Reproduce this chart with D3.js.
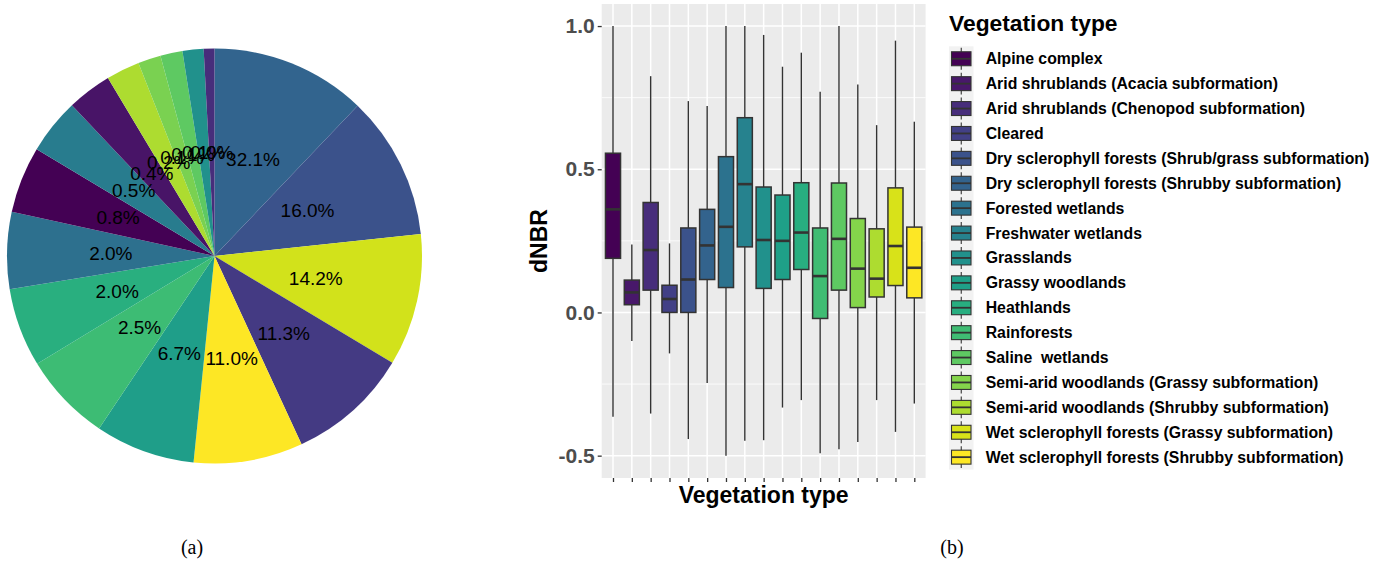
<!DOCTYPE html>
<html><head><meta charset="utf-8">
<script src="https://cdn.jsdelivr.net/npm/d3@7"></script>
<style>body{margin:0;background:#fff;} svg{display:block;}</style>
</head><body>
<svg id="chart" width="1384" height="565"></svg>
<script>
// ---------- Data ----------
const categories = [
  "Alpine complex",
  "Arid shrublands (Acacia subformation)",
  "Arid shrublands (Chenopod subformation)",
  "Cleared",
  "Dry sclerophyll forests (Shrub/grass subformation)",
  "Dry sclerophyll forests (Shrubby subformation)",
  "Forested wetlands",
  "Freshwater wetlands",
  "Grasslands",
  "Grassy woodlands",
  "Heathlands",
  "Rainforests",
  "Saline  wetlands",
  "Semi-arid woodlands (Grassy subformation)",
  "Semi-arid woodlands (Shrubby subformation)",
  "Wet sclerophyll forests (Grassy subformation)",
  "Wet sclerophyll forests (Shrubby subformation)"
];
// boxplot statistics (dNBR)
const whiskerLow  = [-0.364,-0.100,-0.353,-0.143,-0.442,-0.246,-0.500,-0.448,-0.446,-0.332,-0.306,-0.492,-0.478,-0.452,-0.306,-0.417,-0.318];
const q1          = [ 0.189, 0.027, 0.078, 0.000, 0.000, 0.115, 0.087, 0.229, 0.084, 0.115, 0.150,-0.021, 0.078, 0.017, 0.054, 0.094, 0.051];
const medians     = [ 0.360, 0.070, 0.218, 0.047, 0.115, 0.234, 0.299, 0.448, 0.253, 0.250, 0.279, 0.127, 0.257, 0.153, 0.118, 0.232, 0.156];
const q3          = [ 0.556, 0.113, 0.384, 0.095, 0.295, 0.360, 0.544, 0.680, 0.438, 0.410, 0.453, 0.295, 0.452, 0.328, 0.292, 0.435, 0.298];
const whiskerHigh = [ 1.000, 0.237, 0.825, 0.241, 0.738, 0.721, 1.000, 1.000, 0.969, 0.858, 0.907, 0.771, 1.000, 0.796, 0.654, 0.949, 0.666];
const yTicks = [-0.5, 0.0, 0.5, 1.0];
const yTickLabels = ["-0.5", "0.0", "0.5", "1.0"];
const yMinorTicks = [-0.25, 0.25, 0.75];

// pie: slice sizes as drawn (degrees of arc) and their printed labels
const pieSizes  = [43.6, 40.3, 37.1, 34.2, 30.6, 28.0, 24.9, 22.1, 21.5, 18.7, 15.6, 12.5, 9.4, 6.4, 6.2, 5.9, 3.0];
const pieLabels = ["32.1%","16.0%","14.2%","11.3%","11.0%","6.7%","2.5%","2.0%","2.0%","0.8%","0.5%","0.4%","0.2%","0.1%","0.1%","0.1%","0.0%"];
const pieColors = ["#32648e","#3b528b","#d2e21b","#443a83","#fde725","#1f9e89","#3dbc74","#29af7f","#2d708e","#440154","#287c8e","#481467","#addc30","#7ad151","#5ec962","#21918c","#472d7b"];

const svg = d3.select("#chart");
const FONT = "'Liberation Sans', Arial, sans-serif";

// ---------- Pie (a) ----------
const cx = 214.5, cy = 256, R = 207.5;
const pieG = svg.append("g").attr("transform", `translate(${cx},${cy})`);
const arcs = d3.pie().sort(null).value(d => d)(pieSizes);
const arc = d3.arc().innerRadius(0).outerRadius(R);
const labelArc = d3.arc().innerRadius(R*0.5).outerRadius(R*0.5);
pieG.selectAll("path.slice").data(arcs).join("path")
  .attr("class","slice").attr("d", arc)
  .attr("fill", (d,i) => pieColors[i]);
pieG.selectAll("text.lab").data(arcs).join("text")
  .attr("class","lab")
  .attr("transform", d => `translate(${labelArc.centroid(d)})`)
  .attr("text-anchor","middle").attr("dominant-baseline","central")
  .attr("font-family", FONT).attr("font-size", 19).attr("fill","#000")
  .text((d,i) => pieLabels[i]);

// ---------- Box plot (b) ----------
const panel = {x0: 601.7, x1: 925.6, y0: 4, y1: 478};
const x = d3.scalePoint().domain(categories).range([panel.x0, panel.x1]).padding(0.6);
const y = d3.scaleLinear().domain([-0.578, 1.077]).range([panel.y1, panel.y0]);
const color = d3.scaleOrdinal().domain(categories)
  .range(categories.map((c,i) => d3.interpolateViridis(i/(categories.length-1))));

const bp = svg.append("g");
bp.append("rect").attr("x", panel.x0).attr("y", panel.y0)
  .attr("width", panel.x1-panel.x0).attr("height", panel.y1-panel.y0).attr("fill","#ebebeb");
// minor grid
bp.selectAll("line.ymin").data(yMinorTicks).join("line")
  .attr("x1", panel.x0).attr("x2", panel.x1)
  .attr("y1", d=>y(d)).attr("y2", d=>y(d))
  .attr("stroke","#fff").attr("stroke-width",0.8);
// major grid
bp.selectAll("line.ymaj").data(yTicks).join("line")
  .attr("x1", panel.x0).attr("x2", panel.x1)
  .attr("y1", d=>y(d)).attr("y2", d=>y(d))
  .attr("stroke","#fff").attr("stroke-width",1.5);
bp.selectAll("line.xmaj").data(categories).join("line")
  .attr("x1", d=>x(d)).attr("x2", d=>x(d))
  .attr("y1", panel.y0).attr("y2", panel.y1)
  .attr("stroke","#fff").attr("stroke-width",1.5);

const bw = x.step()*0.8;
const boxes = bp.selectAll("g.box").data(categories).join("g").attr("class","box");
boxes.append("line")
  .attr("x1", d=>x(d)).attr("x2", d=>x(d))
  .attr("y1", (d,i)=>y(whiskerHigh[i])).attr("y2", (d,i)=>y(q3[i]))
  .attr("stroke","#333").attr("stroke-width",1.4);
boxes.append("line")
  .attr("x1", d=>x(d)).attr("x2", d=>x(d))
  .attr("y1", (d,i)=>y(q1[i])).attr("y2", (d,i)=>y(whiskerLow[i]))
  .attr("stroke","#333").attr("stroke-width",1.4);
boxes.append("rect")
  .attr("x", d=>x(d)-bw/2).attr("width", bw)
  .attr("y", (d,i)=>y(q3[i])).attr("height", (d,i)=>y(q1[i])-y(q3[i]))
  .attr("fill", d=>color(d)).attr("stroke","#333").attr("stroke-width",1.5);
boxes.append("line")
  .attr("x1", d=>x(d)-bw/2).attr("x2", d=>x(d)+bw/2)
  .attr("y1", (d,i)=>y(medians[i])).attr("y2", (d,i)=>y(medians[i]))
  .attr("stroke","#333").attr("stroke-width",2.6);

// axes
const yAxis = d3.axisLeft(y).tickValues(yTicks).tickFormat((d,i)=>yTickLabels[i]).tickSize(4).tickPadding(3);
const gy = bp.append("g").attr("transform", `translate(${panel.x0},0)`).call(yAxis);
gy.select(".domain").remove();
gy.selectAll(".tick line").attr("stroke","#333").attr("stroke-width",1.3);
gy.selectAll(".tick text").attr("font-family",FONT).attr("font-weight","bold")
  .attr("font-size",21).attr("fill","#4d4d4d");
const xAxis = d3.axisBottom(x).tickSize(4).tickFormat("");
const gx = bp.append("g").attr("transform", `translate(0,${panel.y1})`).call(xAxis);
gx.select(".domain").remove();
gx.selectAll(".tick line").attr("stroke","#333").attr("stroke-width",1.3);

bp.append("text").attr("transform", `translate(547,${(panel.y0+panel.y1)/2}) rotate(-90)`)
  .attr("text-anchor","middle").attr("font-family",FONT).attr("font-weight","bold")
  .attr("font-size",23).attr("fill","#000").text("dNBR");
bp.append("text").attr("x",(panel.x0+panel.x1)/2).attr("y",503)
  .attr("text-anchor","middle").attr("font-family",FONT).attr("font-weight","bold")
  .attr("font-size",23).attr("fill","#000").text("Vegetation type");

// legend
const lg = svg.append("g");
lg.append("text").attr("x",949).attr("y",31).attr("font-family",FONT).attr("font-weight","bold")
  .attr("font-size",22.8).attr("fill","#000").text("Vegetation type");
const keyX = 949, keyW = 24.5, keyTop = 46.3, keyH = 24.9;
lg.append("rect").attr("x",keyX).attr("y",keyTop).attr("width",keyW).attr("height",keyH*categories.length)
  .attr("fill","#f2f2f2");
const items = lg.selectAll("g.item").data(categories).join("g").attr("class","item")
  .attr("transform",(d,i)=>`translate(${keyX},${keyTop+i*keyH})`);
items.append("line").attr("x1",keyW/2).attr("x2",keyW/2).attr("y1",1.5).attr("y2",keyH-1.5)
  .attr("stroke","#333").attr("stroke-width",1.1);
items.append("rect").attr("x",2.5).attr("width",keyW-5).attr("y",keyH*0.22).attr("height",keyH*0.56)
  .attr("fill",d=>color(d)).attr("stroke","#333").attr("stroke-width",1.1);
items.append("line").attr("x1",2.5).attr("x2",keyW-2.5).attr("y1",keyH/2).attr("y2",keyH/2)
  .attr("stroke","#333").attr("stroke-width",1.8);
items.append("text").attr("x",36.7).attr("y",keyH/2).attr("dominant-baseline","central")
  .attr("font-family",FONT).attr("font-weight","bold").attr("font-size",15.8).attr("fill","#000")
  .style("white-space","pre")
  .text(d=>d);

// captions
svg.append("text").attr("x",192).attr("y",554).attr("text-anchor","middle")
  .attr("font-family","'Liberation Serif','Times New Roman',serif").attr("font-size",20).text("(a)");
svg.append("text").attr("x",952).attr("y",554).attr("text-anchor","middle")
  .attr("font-family","'Liberation Serif','Times New Roman',serif").attr("font-size",20).text("(b)");
</script>
</body></html>
